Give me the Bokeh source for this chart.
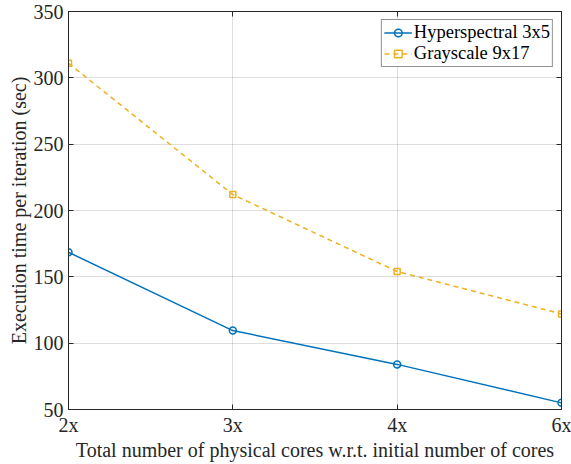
from bokeh.plotting import figure
from bokeh.models import Range1d, FixedTicker, LinearAxis, Legend, LegendItem
from bokeh.embed import file_html
from bokeh.resources import INLINE

# Scaling results: execution time per iteration vs. core multiplier
core_labels = ["2x", "3x", "4x", "6x"]
hyperspectral_3x5 = [168.5, 109.5, 84, 55]
grayscale_9x17 = [311, 212, 154, 122]

xs = list(range(len(core_labels)))
FONT = "Liberation Serif"
FS = "20px"
TXT = "#262626"

p = figure(width=571, height=464, output_backend="svg", toolbar_location=None,
           x_range=Range1d(0, len(core_labels) - 1), y_range=Range1d(50, 350),
           min_border_left=68, min_border_right=10, min_border_top=11,
           min_border_bottom=55)
p.background_fill_color = "white"
p.border_fill_color = "white"
p.outline_line_color = TXT
p.outline_line_width = 1

yticks = list(range(50, 351, 50))
p.xaxis.ticker = FixedTicker(ticks=xs)
p.xaxis.major_label_overrides = {i: lab for i, lab in enumerate(core_labels)}
p.yaxis.ticker = FixedTicker(ticks=yticks)

for ax in (p.xaxis[0], p.yaxis[0]):
    ax.axis_line_color = TXT
    ax.major_tick_in = 5
    ax.major_tick_out = 0
    ax.major_tick_line_color = TXT
    ax.minor_tick_line_color = None
    ax.major_label_text_font = FONT
    ax.major_label_text_font_size = FS
    ax.major_label_text_color = TXT
    ax.axis_label_text_font = FONT
    ax.axis_label_text_font_size = FS
    ax.axis_label_text_font_style = "normal"
    ax.axis_label_text_color = TXT

p.xaxis.axis_label = "Total number of physical cores w.r.t. initial number of cores"
p.yaxis.axis_label = "Execution time per iteration (sec)"
p.xaxis.major_label_standoff = 4
p.yaxis.major_label_standoff = 5
p.xaxis.axis_label_standoff = 0
p.yaxis.axis_label_standoff = 1

# Mirror ticks on the top and right edges, with blank labels
top = LinearAxis(ticker=FixedTicker(ticks=xs),
                 major_label_overrides={i: "" for i in xs})
right = LinearAxis(ticker=FixedTicker(ticks=yticks),
                   major_label_overrides={t: "" for t in yticks})
for ax in (top, right):
    ax.axis_line_color = TXT
    ax.major_tick_in = 5
    ax.major_tick_out = 0
    ax.major_tick_line_color = TXT
    ax.minor_tick_line_color = None
    ax.major_label_standoff = 0
p.add_layout(top, "above")
p.add_layout(right, "right")

p.xgrid.ticker = FixedTicker(ticks=xs)
p.ygrid.ticker = FixedTicker(ticks=yticks)
for g in (p.xgrid[0], p.ygrid[0]):
    g.grid_line_color = "#000000"
    g.grid_line_alpha = 0.13
    g.grid_line_width = 1

BLUE = "#0072BD"
YELLOW = "#EDB120"

l1 = p.line(xs, hyperspectral_3x5, line_color=BLUE, line_width=1.5)
m1 = p.scatter(xs, hyperspectral_3x5, marker="circle", size=7, line_color=BLUE,
               line_width=1.5, fill_color=None)
l2 = p.line(xs, grayscale_9x17, line_color=YELLOW, line_width=1.5, line_dash="5 4")
m2 = p.scatter(xs, grayscale_9x17, marker="square", size=6, line_color=YELLOW,
               line_width=1.5, fill_color=None)

legend = Legend(items=[
    LegendItem(label="Hyperspectral 3x5", renderers=[l1, m1]),
    LegendItem(label="Grayscale 9x17", renderers=[l2, m2]),
], location="top_right")
legend.label_text_font = FONT
legend.label_text_font_size = "18.5px"
legend.label_text_color = "black"
legend.border_line_color = TXT
legend.border_line_width = 1
legend.background_fill_color = "white"
legend.margin = 8
legend.padding = 2
legend.spacing = 0
legend.glyph_width = 28
legend.glyph_height = 19
legend.label_height = 19
legend.label_standoff = 2
p.add_layout(legend)

open("out.html", "w").write(file_html(p, INLINE))
